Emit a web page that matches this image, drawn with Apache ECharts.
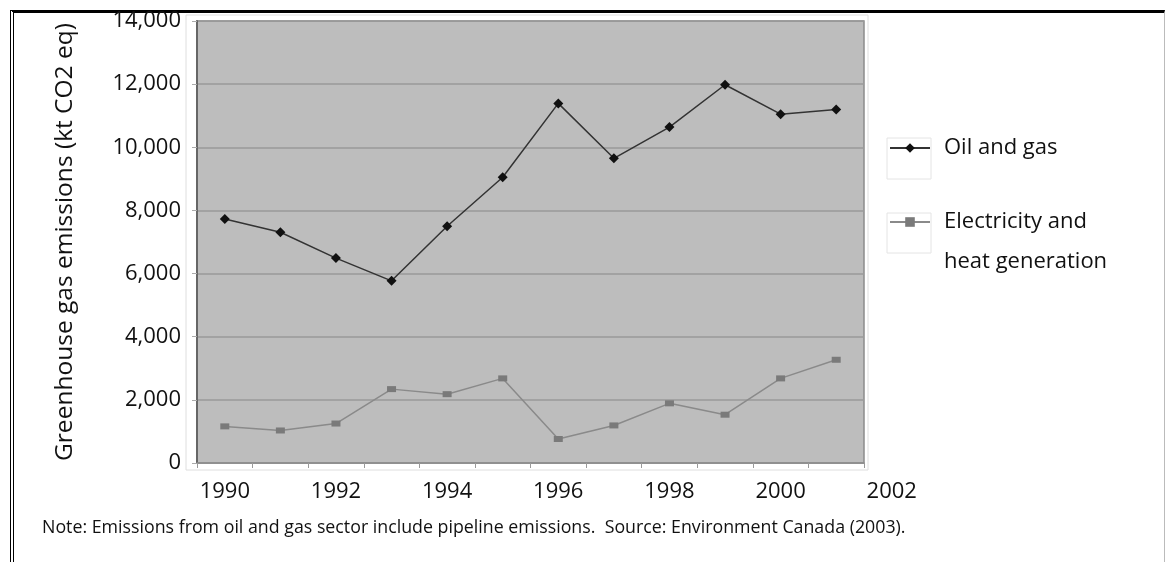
<!DOCTYPE html>
<html>
<head>
<meta charset="utf-8">
<script src="https://cdn.jsdelivr.net/npm/echarts@6/dist/echarts.min.js"></script>
<style>
  html, body { margin: 0; padding: 0; background: #fff; }
  #frame { position: absolute; left: 10px; top: 10px; width: 1150px; height: 560px;
           border-top: 3px solid #000; border-left: 4px double #000; border-right: 1px solid #bbb; }
  #chart { position: absolute; left: 0; top: 0; width: 1165px; height: 562px; }
</style>
</head>
<body>
<div id="frame"></div>
<div id="chart"></div>
<script>
const years = ['1990','1991','1992','1993','1994','1995','1996','1997','1998','1999','2000','2001'];
const oilGas = [7730, 7310, 6490, 5770, 7500, 9050, 11390, 9650, 10640, 11980, 11050, 11200];
const electricity = [1160, 1030, 1250, 2340, 2180, 2680, 760, 1190, 1890, 1530, 2680, 3270];
const yTicks = { min: 0, max: 14000, interval: 2000 };
const xLabelRange = { min: 1990, max: 2002, interval: 2 };
const seriesNames = ['Oil and gas', 'Electricity and heat generation'];
const noteText = 'Note: Emissions from oil and gas sector include pipeline emissions.  Source: Environment Canada (2003).';

const FONT = 'Open Sans';
const chart = echarts.init(document.getElementById('chart'), null, { renderer: 'canvas' });

const legendText = { fontFamily: FONT, fontSize: 22, color: '#111', lineHeight: 40, padding: [0, 0, 0, 9] };

const option = {
  animation: false,
  textStyle: { fontFamily: FONT },
  title: {
    text: noteText,
    left: 42, top: 519, padding: 0,
    textStyle: { fontFamily: FONT, fontSize: 17.8, fontWeight: 'normal', color: '#111' }
  },
  graphic: [
    { type: 'rect', shape: { x: 186, y: 15, width: 682, height: 455 },
      style: { fill: 'none', stroke: '#dedede', lineWidth: 1 }, z: -1 },
    { type: 'rect', shape: { x: 887, y: 138, width: 44, height: 41 },
      style: { fill: 'none', stroke: '#e4e4e4', lineWidth: 1 }, z: -1 },
    { type: 'rect', shape: { x: 887, y: 213, width: 44, height: 40 },
      style: { fill: 'none', stroke: '#e4e4e4', lineWidth: 1 }, z: -1 }
  ],
  grid: [
    { left: 197, top: 21, right: 301, bottom: 99, show: true,
      backgroundColor: '#bdbdbd', borderColor: '#8c8c8c', borderWidth: 1.5 },
    { left: 224.8, top: 21, right: 273.25, bottom: 99, show: false }
  ],
  legend: [
    { data: [seriesNames[0]], orient: 'vertical', left: 889, top: 128, padding: 0,
      itemWidth: 40, itemHeight: 12,
      textStyle: legendText },
    { data: [seriesNames[1]], orient: 'vertical', left: 889, top: 162, padding: 0,
      itemWidth: 40, itemHeight: 12,
      formatter: n => '\n' + n.replace('and ', 'and\n'),
      textStyle: legendText }
  ],
  xAxis: [
    { type: 'category', data: years, gridIndex: 0, boundaryGap: true,
      axisLine: { lineStyle: { color: '#8c8c8c', width: 1.5 } },
      axisTick: { show: true, length: 5, lineStyle: { color: '#999' } },
      axisLabel: { show: false }, splitLine: { show: false } },
    { type: 'value', gridIndex: 1, min: xLabelRange.min, max: xLabelRange.max, interval: xLabelRange.interval,
      axisLine: { show: false }, axisTick: { show: false }, splitLine: { show: false },
      axisLabel: { show: true, margin: 18, fontFamily: FONT, fontSize: 22, color: '#111',
                   formatter: v => String(v) } }
  ],
  yAxis: [
    { type: 'value', gridIndex: 0, min: yTicks.min, max: yTicks.max, interval: yTicks.interval,
      name: 'Greenhouse gas emissions (kt CO2 eq)', nameLocation: 'middle', nameGap: 119,
      nameTextStyle: { fontFamily: FONT, fontSize: 24.5, color: '#111' },
      axisLine: { show: true, lineStyle: { color: '#666', width: 2 } },
      axisTick: { show: true, length: 5, lineStyle: { color: '#aaa' } },
      axisLabel: { margin: 16, fontFamily: FONT, fontSize: 22, color: '#111' },
      splitLine: { show: true, lineStyle: { color: '#9a9a9a', width: 1.5 } } },
    { type: 'value', gridIndex: 1, show: false, min: 0, max: 1 }
  ],
  series: [
    { name: seriesNames[0], type: 'line', data: oilGas, xAxisIndex: 0, yAxisIndex: 0,
      symbol: 'diamond', symbolSize: 10,
      lineStyle: { color: '#333', width: 1.5 },
      itemStyle: { color: '#111' } },
    { name: seriesNames[1], type: 'line', data: electricity, xAxisIndex: 0, yAxisIndex: 0,
      symbol: 'rect', symbolSize: [9, 6],
      lineStyle: { color: '#8a8a8a', width: 1.5 },
      itemStyle: { color: '#7a7a7a' } }
  ]
};
chart.setOption(option);
</script>
</body>
</html>
